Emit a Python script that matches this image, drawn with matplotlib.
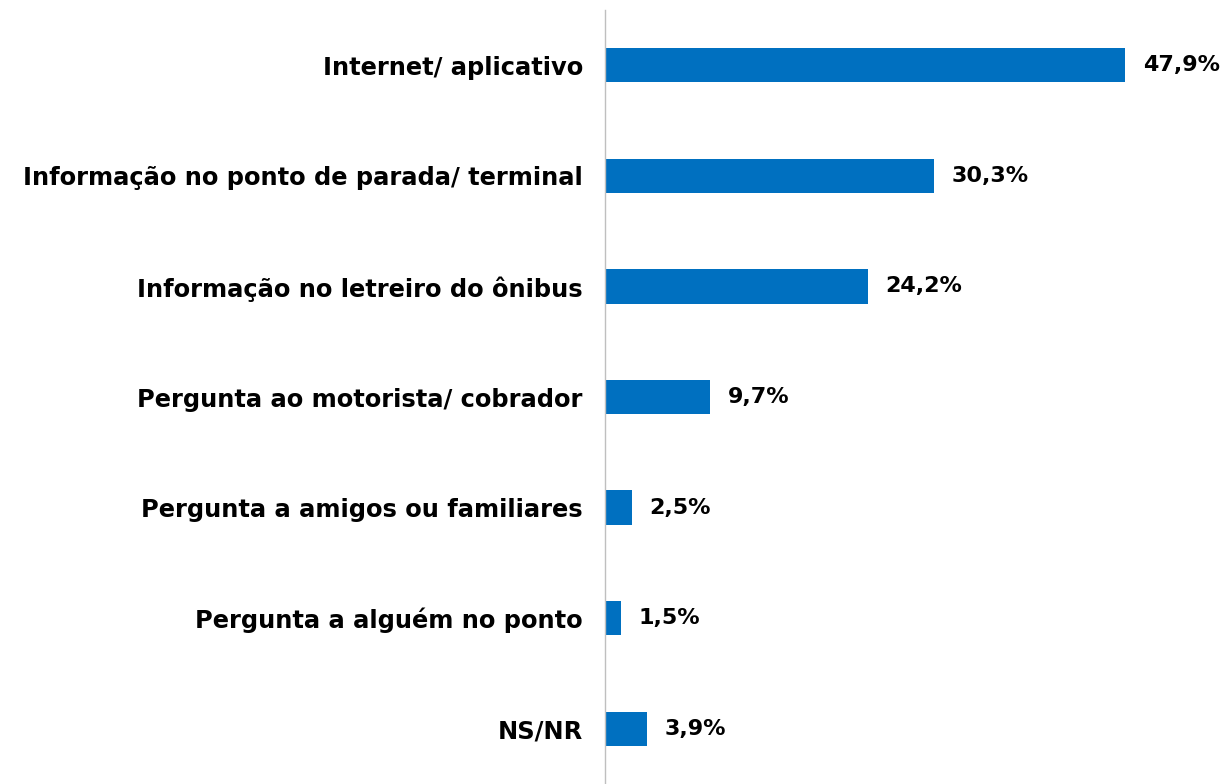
import matplotlib.pyplot as plt

categorias = ['Internet/ aplicativo',
              'Informação no ponto de parada/ terminal',
              'Informação no letreiro do ônibus',
              'Pergunta ao motorista/ cobrador',
              'Pergunta a amigos ou familiares',
              'Pergunta a alguém no ponto',
              'NS/NR']
valores = [47.9, 30.3, 24.2, 9.7, 2.5, 1.5, 3.9]

plt.rcParams['font.family'] = ['DejaVu Sans']

fig = plt.figure(figsize=(12.22, 7.84), dpi=100)
ax = fig.add_axes([605 / 1222, 0, 1 - 605 / 1222, 774 / 784])

pos = list(range(len(categorias)))
ax.barh(pos, valores, height=0.31, color='#0070C0')
ax.set_ylim(len(categorias) - 0.5, -0.5)
ax.set_xlim(0, 56.8)

for p, v in zip(pos, valores):
    ax.text(v + 1.6, p, f'{v:.1f}%'.replace('.', ','), va='center', ha='left',
            fontsize=16, fontweight='bold', color='black')

ax.set_yticks(pos)
ax.set_yticklabels(categorias, fontsize=17.4, fontweight='bold')
ax.tick_params(axis='y', length=0, pad=16)
ax.set_xticks([])
for s in ['top', 'right', 'bottom']:
    ax.spines[s].set_visible(False)
ax.spines['left'].set_color('#BFBFBF')
ax.spines['left'].set_linewidth(1)

fig.savefig('out.png', dpi=100)
